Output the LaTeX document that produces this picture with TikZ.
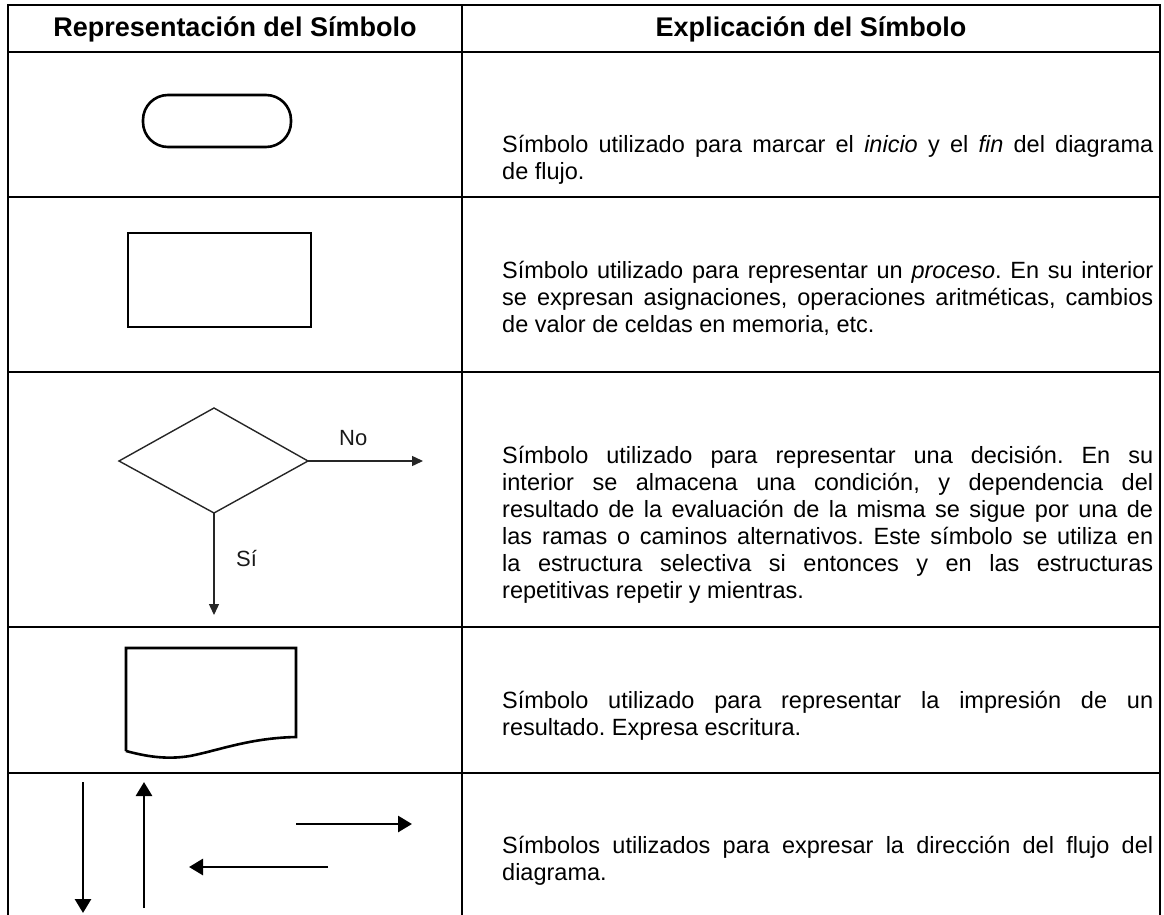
\documentclass[tikz,border=0pt]{standalone}
\usepackage{fontspec}
\setmainfont{Liberation Sans}
\usetikzlibrary{arrows.meta}
\frenchspacing
\newcommand\celltext[1]{\parbox[t]{651pt}{\fontsize{23.5}{27}\selectfont\frenchspacing\hyphenpenalty=10000\tolerance=10000\emergencystretch=20pt #1}}
\begin{document}
\begin{tikzpicture}[x=1pt,y=-1pt,
  gridline/.style={line width=1.8pt, black},
  shapeline/.style={line width=2.6pt, black},
  thinline/.style={line width=1.4pt, black!85},
  bigarrow/.style={line width=2.8pt, black, -{Triangle[length=14pt,width=16pt]}},
  smallarrow/.style={line width=1.4pt, black!85, -{Triangle[length=11pt,width=10pt]}},
  hdr/.style={font=\fontsize{27}{31}\selectfont\bfseries, anchor=base, inner sep=0pt},
  body/.style={anchor=base west, inner sep=0pt},
  lbl/.style={font=\fontsize{22}{26}\selectfont, anchor=base west, inner sep=0pt, text=black!90}
]
\useasboundingbox (0,0) rectangle (1164,915);
% table grid
\draw[gridline] (8,915) -- (8,5) -- (1160,5) -- (1160,915);
\draw[gridline] (462,5) -- (462,915);
\foreach \yy in {52,197,372,627,773} \draw[gridline] (8,\yy) -- (1160,\yy);
% headers
\node[hdr] (h1) at (235,37) {Representación del Símbolo};
\node[hdr] (h2) at (811,37) {Explicación del Símbolo};
% row 1: terminal
\draw[shapeline, rounded corners=25pt] (143,95) rectangle (291,147);
\node[body] (t1) at (502,153) {\celltext{Símbolo utilizado para marcar el \textit{inicio} y el \textit{fin} del diagrama\linebreak de flujo.}};
% row 2: process
\draw[shapeline, line join=miter] (128,233) rectangle (311,327);
\node[body] (t2) at (502,278) {\celltext{Símbolo utilizado para representar un \textit{proceso}. En su interior\linebreak se expresan asignaciones, operaciones aritméticas, cambios\linebreak de valor de celdas en memoria, etc.}};
% row 3: decision
\draw[thinline] (214,408) -- (308,461) -- (214,513) -- (119,461) -- cycle;
\coordinate (dE) at (308,461);
\coordinate (dS) at (214,513);
\coordinate (noEnd) at (423,461);
\coordinate (siEnd) at (214,615);
\draw[smallarrow] (dE) -- (noEnd);
\draw[smallarrow] (dS) -- (siEnd);
\node[lbl] (no) at (339,445) {No};
\node[lbl] (si) at (236,566) {Sí};
\node[body] (t3) at (502,463) {\celltext{Símbolo utilizado para representar una decisión. En su\linebreak interior se almacena una condición, y dependencia del\linebreak resultado de la evaluación de la misma se sigue por una de\linebreak las ramas o caminos alternativos. Este símbolo se utiliza en\linebreak la estructura selectiva si entonces y en las estructuras\linebreak repetitivas repetir y mientras.}};
% row 4: document
\draw[shapeline, line join=miter] (126,751) -- (126,648) -- (296,648) -- (296,737)
  .. controls (250,738) and (220,750) .. (190,756)
  .. controls (165,760) and (145,756) .. (126,751);
\node[body] (t4) at (502,708) {\celltext{Símbolo utilizado para representar la impresión de un\linebreak resultado. Expresa escritura.}};
% row 5: flow arrows
\coordinate (a1s) at (83,782);  \coordinate (a1e) at (83,913);
\coordinate (a2s) at (144,908); \coordinate (a2e) at (144,782);
\coordinate (a3s) at (296,824); \coordinate (a3e) at (412,824);
\coordinate (a4s) at (328,867); \coordinate (a4e) at (189,867);
\draw[bigarrow] (a1s) -- (a1e);
\draw[bigarrow] (a2s) -- (a2e);
\draw[bigarrow] (a3s) -- (a3e);
\draw[bigarrow] (a4s) -- (a4e);
\node[body] (t5) at (502,853) {\celltext{Símbolos utilizados para expresar la dirección del flujo del\linebreak diagrama.}};
\end{tikzpicture}
\end{document}
